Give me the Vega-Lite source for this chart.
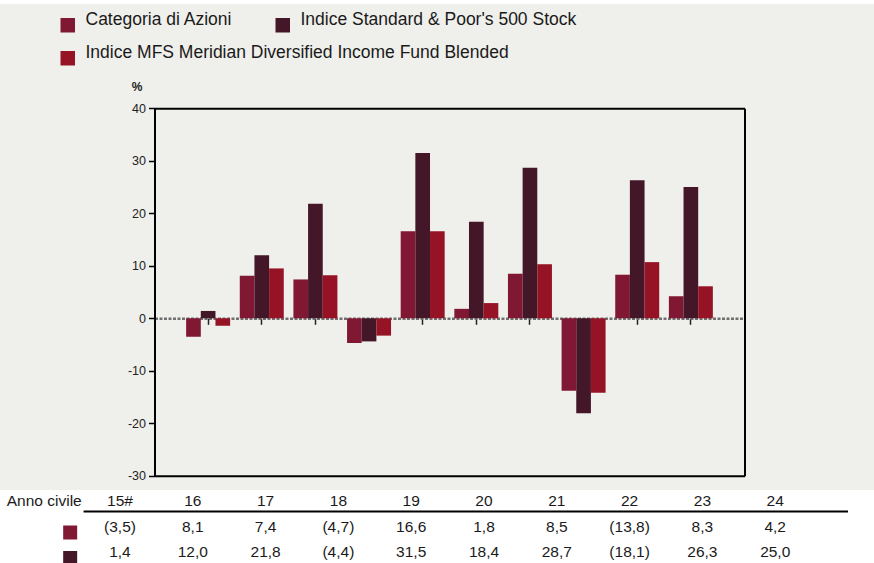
{
  "$schema": "https://vega.github.io/schema/vega-lite/v6.json",
  "padding": {"left": 0, "right": 0, "top": 4, "bottom": 0},
  "background": "white",
  "spacing": 0,
  "config": {
    "locale": {"number": {"decimal": ",", "thousands": ".", "grouping": [3], "currency": ["", " €"], "minus": "-"}},
    "font": "Liberation Sans",
    "view": {"stroke": null},
    "axis": {"grid": false},
    "text": {"font": "Liberation Sans", "fontSize": 15.5, "color": "#1a1a1a"}
  },
  "data": {
    "values": [
      {"year": 15, "label": "15#", "series": "Categoria di Azioni", "value": -3.5},
      {"year": 16, "label": "16", "series": "Categoria di Azioni", "value": 8.1},
      {"year": 17, "label": "17", "series": "Categoria di Azioni", "value": 7.4},
      {"year": 18, "label": "18", "series": "Categoria di Azioni", "value": -4.7},
      {"year": 19, "label": "19", "series": "Categoria di Azioni", "value": 16.6},
      {"year": 20, "label": "20", "series": "Categoria di Azioni", "value": 1.8},
      {"year": 21, "label": "21", "series": "Categoria di Azioni", "value": 8.5},
      {"year": 22, "label": "22", "series": "Categoria di Azioni", "value": -13.8},
      {"year": 23, "label": "23", "series": "Categoria di Azioni", "value": 8.3},
      {"year": 24, "label": "24", "series": "Categoria di Azioni", "value": 4.2},
      {"year": 15, "label": "15#", "series": "Indice Standard & Poor's 500 Stock", "value": 1.4},
      {"year": 16, "label": "16", "series": "Indice Standard & Poor's 500 Stock", "value": 12.0},
      {"year": 17, "label": "17", "series": "Indice Standard & Poor's 500 Stock", "value": 21.8},
      {"year": 18, "label": "18", "series": "Indice Standard & Poor's 500 Stock", "value": -4.4},
      {"year": 19, "label": "19", "series": "Indice Standard & Poor's 500 Stock", "value": 31.5},
      {"year": 20, "label": "20", "series": "Indice Standard & Poor's 500 Stock", "value": 18.4},
      {"year": 21, "label": "21", "series": "Indice Standard & Poor's 500 Stock", "value": 28.7},
      {"year": 22, "label": "22", "series": "Indice Standard & Poor's 500 Stock", "value": -18.1},
      {"year": 23, "label": "23", "series": "Indice Standard & Poor's 500 Stock", "value": 26.3},
      {"year": 24, "label": "24", "series": "Indice Standard & Poor's 500 Stock", "value": 25.0},
      {"year": 15, "label": "15#", "series": "Indice MFS Meridian Diversified Income Fund Blended", "value": -1.4},
      {"year": 16, "label": "16", "series": "Indice MFS Meridian Diversified Income Fund Blended", "value": 9.5},
      {"year": 17, "label": "17", "series": "Indice MFS Meridian Diversified Income Fund Blended", "value": 8.2},
      {"year": 18, "label": "18", "series": "Indice MFS Meridian Diversified Income Fund Blended", "value": -3.3},
      {"year": 19, "label": "19", "series": "Indice MFS Meridian Diversified Income Fund Blended", "value": 16.6},
      {"year": 20, "label": "20", "series": "Indice MFS Meridian Diversified Income Fund Blended", "value": 2.9},
      {"year": 21, "label": "21", "series": "Indice MFS Meridian Diversified Income Fund Blended", "value": 10.3},
      {"year": 22, "label": "22", "series": "Indice MFS Meridian Diversified Income Fund Blended", "value": -14.2},
      {"year": 23, "label": "23", "series": "Indice MFS Meridian Diversified Income Fund Blended", "value": 10.7},
      {"year": 24, "label": "24", "series": "Indice MFS Meridian Diversified Income Fund Blended", "value": 6.1}
    ]
  },
  "vconcat": [
    {
      "width": 874,
      "height": 486,
      "view": {"fill": "#efefeb", "stroke": null},
      "resolve": {"axis": {"x": "independent", "y": "independent"}},
      "layer": [
        {
          "mark": {"type": "bar"},
          "encoding": {
            "x": {
              "field": "year", "type": "ordinal",
              "scale": {"range": [154.5, 744.5], "paddingInner": 0.18, "paddingOuter": 0.59},
              "axis": {"orient": "bottom", "offset": -171.7, "labels": false, "title": null,
                       "domainColor": "#707070", "domainWidth": 2.5, "domainDash": [3, 1.5],
                       "tickColor": "#222222", "tickWidth": 1.5, "tickSize": 6}
            },
            "xOffset": {"field": "series", "type": "nominal",
              "sort": ["Categoria di Azioni", "Indice Standard & Poor's 500 Stock", "Indice MFS Meridian Diversified Income Fund Blended"]},
            "y": {
              "field": "value", "type": "quantitative",
              "scale": {"domain": [-30, 40], "range": [471.8, 104.3], "nice": false, "zero": false},
              "axis": {"orient": "left", "offset": -154.5, "values": [-30, -20, -10, 0, 10, 20, 30, 40], "format": "d",
                       "domainColor": "black", "domainWidth": 2, "tickColor": "black", "tickWidth": 1.5, "tickSize": 6,
                       "labelFont": "Liberation Sans", "labelFontSize": 12.5, "labelColor": "#222222", "labelPadding": 3,
                       "title": "%", "titleAngle": 0, "titleX": -18, "titleY": 82, "titleAlign": "center", "titleBaseline": "middle",
                       "titleFont": "Liberation Sans", "titleFontSize": 12, "titleFontWeight": "bold", "titleColor": "#222222"}
            },
            "color": {
              "field": "series", "type": "nominal",
              "scale": {
                "domain": ["Categoria di Azioni", "Indice Standard & Poor's 500 Stock", "Indice MFS Meridian Diversified Income Fund Blended"],
                "range": ["#801733", "#431628", "#961325"]
              },
              "legend": {
                "orient": "none", "legendX": 59, "legendY": 12.5, "title": null, "direction": "horizontal",
                "columns": 2, "gridAlign": "none", "columnPadding": -235, "rowPadding": 11, "padding": 0,
                "symbolType": "square", "symbolSize": 210, "symbolStrokeWidth": 0, "symbolOpacity": 1,
                "labelFont": "Liberation Sans", "labelFontSize": 17.5, "labelColor": "#1a1a1a",
                "labelOffset": 9, "labelLimit": 0, "labelBaseline": "alphabetic"
              }
            }
          }
        },
        {
          "mark": {"type": "point", "opacity": 0},
          "encoding": {
            "x": {"field": "year", "type": "ordinal",
              "axis": {"orient": "top", "offset": -104.3, "labels": false, "ticks": false, "title": null, "domainColor": "black", "domainWidth": 2}},
            "y": {"field": "value", "type": "quantitative",
              "axis": {"orient": "right", "offset": -129.5, "labels": false, "ticks": false, "title": null, "domainColor": "black", "domainWidth": 2}}
          }
        },
        {
          "mark": {"type": "point", "opacity": 0},
          "encoding": {
            "x": {"field": "year", "type": "ordinal",
              "axis": {"orient": "bottom", "offset": -14.2, "labels": false, "ticks": false, "title": null, "domainColor": "black", "domainWidth": 2}},
            "y": {"field": "value", "type": "quantitative", "axis": null}
          }
        }
      ]
    },
    {
      "width": 874,
      "height": 73,
      "view": {"fill": "white", "stroke": null},
      "layer": [
        {
          "transform": [{"filter": "datum.series === 'Categoria di Azioni'"}],
          "mark": {"type": "text", "baseline": "middle"},
          "encoding": {
            "x": {"field": "year", "type": "quantitative", "scale": {"domain": [13.352, 25.357], "nice": false, "zero": false}, "axis": null},
            "y": {"datum": "Anno civile", "type": "nominal",
              "scale": {"type": "point", "domain": ["Anno civile", "Categoria di Azioni", "Indice Standard & Poor's 500 Stock"], "padding": 0.43},
              "axis": null},
            "text": {"field": "label"}
          }
        },
        {
          "data": {"values": [{"h": "Anno civile"}]},
          "mark": {"type": "text", "baseline": "middle"},
          "encoding": {
            "x": {"datum": 13.96, "type": "quantitative"},
            "y": {"datum": "Anno civile", "type": "nominal"},
            "text": {"field": "h"}
          }
        },
        {
          "transform": [{"filter": "datum.series !== 'Indice MFS Meridian Diversified Income Fund Blended'"}],
          "mark": {"type": "text", "baseline": "middle"},
          "encoding": {
            "x": {"field": "year", "type": "quantitative"},
            "y": {"field": "series", "type": "nominal"},
            "text": {"field": "value", "type": "quantitative", "format": "(.1f"}
          }
        },
        {
          "data": {"values": [{}]},
          "mark": {"type": "rule", "color": "black", "strokeWidth": 2},
          "encoding": {
            "x": {"datum": 14.5, "type": "quantitative"},
            "x2": {"datum": 25},
            "y": {"datum": "Anno civile", "type": "nominal"},
            "yOffset": {"value": 10.5}
          }
        },
        {
          "data": {"values": [{}]},
          "mark": {"type": "point", "shape": "square", "filled": true, "size": 196, "opacity": 1, "color": "#801733"},
          "encoding": {
            "x": {"datum": 14, "type": "quantitative"},
            "xOffset": {"value": 23},
            "y": {"datum": "Categoria di Azioni", "type": "nominal"},
            "yOffset": {"value": 6}
          }
        },
        {
          "data": {"values": [{}]},
          "mark": {"type": "point", "shape": "square", "filled": true, "size": 196, "opacity": 1, "color": "#431628"},
          "encoding": {
            "x": {"datum": 14, "type": "quantitative"},
            "xOffset": {"value": 23},
            "y": {"datum": "Indice Standard & Poor's 500 Stock", "type": "nominal"},
            "yOffset": {"value": 6}
          }
        }
      ]
    }
  ]
}
